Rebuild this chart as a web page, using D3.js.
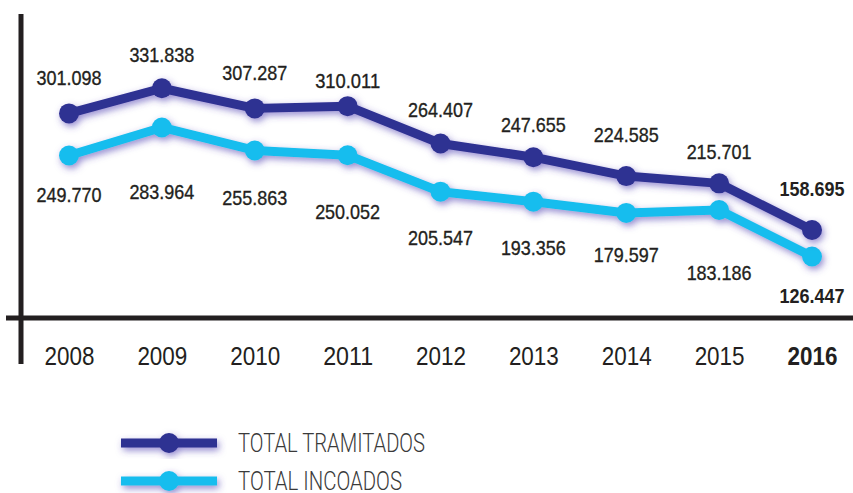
<!DOCTYPE html>
<html>
<head>
<meta charset="utf-8">
<script src="https://cdn.jsdelivr.net/npm/d3@7"></script>
<style>
  html, body { margin: 0; padding: 0; background: #fff; }
  svg { display: block; }
</style>
</head>
<body>
<div id="chart"></div>
<script>
// data
var years = ["2008", "2009", "2010", "2011", "2012", "2013", "2014", "2015", "2016"];
var tramitados = [301098, 331838, 307287, 310011, 264407, 247655, 224585, 215701, 158695];
var incoados = [249770, 283964, 255863, 250052, 205547, 193356, 179597, 183186, 126447];
var labelsTram = ["301.098", "331.838", "307.287", "310.011", "264.407", "247.655", "224.585", "215.701", "158.695"];
var labelsInc = ["249.770", "283.964", "255.863", "250.052", "205.547", "193.356", "179.597", "183.186", "126.447"];
var seriesNames = ["TOTAL TRAMITADOS", "TOTAL INCOADOS"];

// label nudges (px from the point), as placed in the original
var tramDy = [-28, -26, -28, -18, -26, -25, -34, -24, -34];
var incDy = [47, 72, 55, 64, 53, 53, 49, 70, 47];

var W = 853, H = 493;
var darkBlue = "#2e3192", lightBlue = "#19bdee", ink = "#231f20";

var svg = d3.select("#chart").append("svg")
  .attr("width", W)
  .attr("height", H);

// purple glow under the lines
var defs = svg.append("defs");
var f = defs.append("filter").attr("id", "glow")
  .attr("x", "-10%").attr("y", "-30%").attr("width", "120%").attr("height", "160%");
f.append("feDropShadow")
  .attr("dx", 2).attr("dy", 3)
  .attr("stdDeviation", 3.5)
  .attr("flood-color", "#4b3cb0")
  .attr("flood-opacity", 0.6);

var x = d3.scalePoint().domain(years).range([69, 812]);
var y = d3.scaleLinear().domain([0, 350000]).range([360, 73.4]);

// frame
svg.append("line")
  .attr("x1", 21).attr("x2", 21).attr("y1", 14).attr("y2", 364)
  .attr("stroke", ink).attr("stroke-width", 5);
svg.append("line")
  .attr("x1", 6).attr("x2", W).attr("y1", 318).attr("y2", 318)
  .attr("stroke", ink).attr("stroke-width", 5);

// year labels
var xAxis = svg.append("g")
  .attr("transform", "translate(0,318)")
  .call(d3.axisBottom(x).tickSize(0));
xAxis.select(".domain").remove();
xAxis.selectAll("text")
  .attr("y", 47).attr("dy", 0)
  .attr("fill", ink)
  .style("font-family", "'Liberation Sans', Arial, sans-serif")
  .style("font-size", "25px")
  .style("font-weight", function(d) { return d == "2016" ? "bold" : "normal"; })
  .attr("textLength", 50)
  .attr("lengthAdjust", "spacingAndGlyphs");

var line = d3.line()
  .x(function(d, i) { return x(years[i]); })
  .y(function(d) { return y(d); });

function drawSeries(vals, color) {
  var g = svg.append("g").attr("filter", "url(#glow)");
  g.append("path")
    .datum(vals)
    .attr("d", line)
    .attr("fill", "none")
    .attr("stroke", color)
    .attr("stroke-width", 9)
    .attr("stroke-linejoin", "round");
  g.selectAll("circle")
    .data(vals)
    .enter()
    .append("circle")
    .attr("cx", function(d, i) { return x(years[i]); })
    .attr("cy", function(d) { return y(d); })
    .attr("r", 10)
    .attr("fill", color);
}
drawSeries(incoados, lightBlue);
drawSeries(tramitados, darkBlue);

function drawLabels(vals, labels, dy) {
  svg.append("g").selectAll("text")
    .data(vals)
    .enter()
    .append("text")
    .attr("x", function(d, i) { return x(years[i]); })
    .attr("y", function(d, i) { return y(d) + dy[i]; })
    .attr("text-anchor", "middle")
    .attr("fill", ink)
    .attr("stroke", ink)
    .attr("stroke-width", function(d, i) { return i == vals.length - 1 ? 0 : 0.35; })
    .style("font-family", "'Liberation Sans', Arial, sans-serif")
    .style("font-size", "21px")
    .style("font-weight", function(d, i) { return i == vals.length - 1 ? "bold" : "normal"; })
    .attr("textLength", 65)
    .attr("lengthAdjust", "spacingAndGlyphs")
    .text(function(d, i) { return labels[i]; });
}
drawLabels(tramitados, labelsTram, tramDy);
drawLabels(incoados, labelsInc, incDy);

// legend
var legendY = [443, 481];
var legendColors = [darkBlue, lightBlue];
var legendLen = [187, 164];
seriesNames.forEach(function(name, i) {
  var g = svg.append("g").attr("filter", "url(#glow)");
  g.append("line")
    .attr("x1", 121).attr("x2", 217)
    .attr("y1", legendY[i]).attr("y2", legendY[i])
    .attr("stroke", legendColors[i]).attr("stroke-width", 9);
  g.append("circle")
    .attr("cx", 169).attr("cy", legendY[i]).attr("r", 10)
    .attr("fill", legendColors[i]);
  svg.append("text")
    .attr("x", 238).attr("y", legendY[i] + 9)
    .attr("fill", "#3a3a3a")
    .style("font-family", "Roboto, 'Liberation Sans', sans-serif")
    .style("font-size", "25px")
    .style("font-weight", 300)
    .attr("textLength", legendLen[i])
    .attr("lengthAdjust", "spacingAndGlyphs")
    .text(name);
});
</script>
</body>
</html>
